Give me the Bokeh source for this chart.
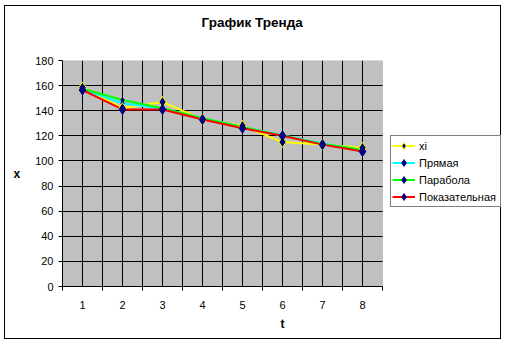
from bokeh.plotting import figure
from bokeh.models import FixedTicker, Range1d, Legend, LegendItem, BoxAnnotation, Title
from bokeh.embed import file_html
from bokeh.resources import INLINE

# ---- data ----
t = [1, 2, 3, 4, 5, 6, 7, 8]
xi = [158.5, 142, 147, 133, 128, 115, 113, 110.5]
pryamaya = [157, 146, 141.5, 134, 127, 120.5, 114, 108.5]
parabola = [157.5, 148.5, 142, 134, 127, 120, 113.5, 109]
pokaz = [156.5, 141, 141, 133, 126, 120, 113, 107.5]
series_names = ["xi", "Прямая", "Парабола", "Показательная"]
y_ticks = [0, 20, 40, 60, 80, 100, 120, 140, 160, 180]
title_text = "График Тренда"
x_label = "t"
y_label = "x"

FONT = "Liberation Sans"
NAVY = "#000080"
X_LO, X_HI = 0.5, 8.5
Y_LO, Y_HI = 0, 180

# frame extends to the right over the legend area; plot area is a sub-box
p = figure(width=497, height=334, output_backend="svg", toolbar_location=None,
           x_range=Range1d(0.5, 11.5), y_range=Range1d(Y_LO, Y_HI),
           min_border_left=57, min_border_right=0, min_border_top=54,
           min_border_bottom=54, title=None)
p.margin = (5, 0, 0, 4)
p.styles = {"border": "1px solid black"}
p.background_fill_color = "white"
p.border_fill_color = "white"
p.outline_line_color = None

# spacer between frame and title, then the title itself (outermost)
p.add_layout(Title(text=" ", text_font=FONT, text_font_size="13.5px", standoff=14), "above")
p.add_layout(Title(text=title_text, text_font=FONT, text_font_size="13.5px",
                   text_font_style="bold", text_color="black", align="left",
                   offset=139, standoff=0), "above")

# plot area
p.add_layout(BoxAnnotation(left=X_LO, right=X_HI, bottom=Y_LO, top=Y_HI,
                           fill_color="#C0C0C0", fill_alpha=1,
                           line_color="#808080", line_width=1, level="image"))

# axes
xa = p.xaxis[0]
xa.bounds = (X_LO, X_HI)
xa.ticker = FixedTicker(ticks=t, minor_ticks=[v + 0.5 for v in range(0, 9)])
xa.major_tick_out = 0
xa.major_tick_in = 0
xa.minor_tick_out = 4
xa.minor_tick_in = 0
xa.minor_tick_line_color = "black"
xa.axis_line_color = "black"
xa.major_label_standoff = 10
xa.major_label_text_font = FONT
xa.major_label_text_font_size = "11px"
xa.major_label_text_color = "black"
xa.axis_label = x_label
xa.axis_label_standoff = 5
xa.axis_label_text_font = FONT
xa.axis_label_text_font_size = "12px"
xa.axis_label_text_font_style = "bold"
xa.axis_label_text_color = "black"

ya = p.yaxis[0]
ya.bounds = (Y_LO, Y_HI)
ya.ticker = FixedTicker(ticks=y_ticks)
ya.major_tick_out = 4
ya.major_tick_in = 0
ya.minor_tick_out = 0
ya.minor_tick_in = 0
ya.axis_line_color = "black"
ya.major_label_standoff = 5
ya.major_label_text_font = FONT
ya.major_label_text_font_size = "11px"
ya.major_label_text_color = "black"
ya.axis_label = y_label
ya.axis_label_orientation = "horizontal"
ya.axis_label_standoff = 12
ya.axis_label_text_font = FONT
ya.axis_label_text_font_size = "12px"
ya.axis_label_text_font_style = "bold"
ya.axis_label_text_color = "black"

# grids
xg = p.xgrid[0]
xg.ticker = FixedTicker(ticks=t, minor_ticks=[v + 1.5 for v in range(0, 7)])
xg.grid_line_color = "black"
xg.minor_grid_line_color = "black"
xg.cross_bounds = (Y_LO, Y_HI)
yg = p.ygrid[0]
yg.ticker = FixedTicker(ticks=y_ticks[1:-1])
yg.grid_line_color = "black"
yg.cross_bounds = (X_LO, X_HI)

# lines
l1 = p.line(t, xi, line_color="#FFFF00", line_width=2)
l2 = p.line(t, pryamaya, line_color="#00FFFF", line_width=2)
l3 = p.line(t, parabola, line_color="#00FF00", line_width=2)
l4 = p.line(t, pokaz, line_color="#FF0000", line_width=2)
# markers
s2 = p.scatter(t, pryamaya, marker="diamond", size=5, fill_color=NAVY, line_color=NAVY)
s3 = p.scatter(t, parabola, marker="diamond", size=5, fill_color=NAVY, line_color=NAVY)
s1 = p.scatter(t, xi, marker="diamond", size=11, fill_color=NAVY, line_color="#FFFF00", line_width=1)
s4 = p.scatter(t, pokaz, marker="diamond", size=10, fill_color=NAVY, line_color=NAVY)

legend = Legend(items=[
    LegendItem(label=series_names[0], renderers=[l1, s1]),
    LegendItem(label=series_names[1], renderers=[l2, s2]),
    LegendItem(label=series_names[2], renderers=[l3, s3]),
    LegendItem(label=series_names[3], renderers=[l4, s4]),
], location=(328, 79))
legend.label_text_font = FONT
legend.label_text_font_size = "11px"
legend.label_text_color = "black"
legend.glyph_width = 23
legend.glyph_height = 17
legend.label_height = 17
legend.label_width = 80
legend.label_standoff = 4
legend.spacing = 0
legend.padding = 1
legend.margin = 0
legend.border_line_color = "black"
legend.border_line_width = 1
legend.background_fill_color = "white"
legend.background_fill_alpha = 1
p.add_layout(legend, "center")

open("out.html", "w").write(file_html(p, INLINE))
